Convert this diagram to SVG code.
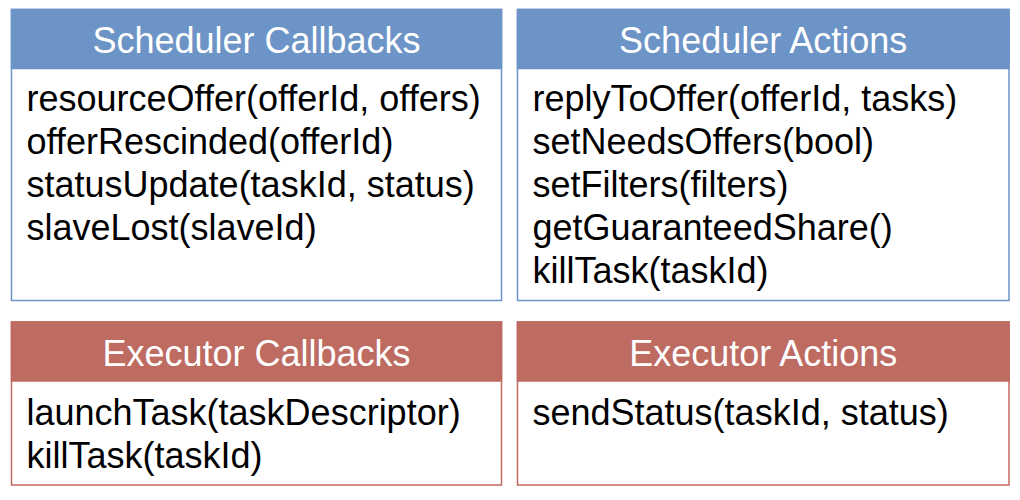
<svg xmlns="http://www.w3.org/2000/svg" width="1020" height="500" viewBox="0 0 1020 500">
<style>
.hdr{font-family:"Liberation Sans",Arial,sans-serif;font-size:36px;fill:#ffffff;text-anchor:middle}
.body{font-family:"Liberation Sans",Arial,sans-serif;font-size:36px;fill:#000000}
.bframe{fill:#ffffff;stroke:#6d93c8;stroke-width:1.5}
.bhead{fill:#6c94c6;stroke:#6d93c8;stroke-width:1.5}
.rframe{fill:#ffffff;stroke:#c0695f;stroke-width:1.5}
.rhead{fill:#be6b62;stroke:#c0695f;stroke-width:1.5}
</style>
<rect width="1020" height="500" fill="#ffffff"/>
<g id="scheduler-callbacks">
<rect class="bframe" x="11.5" y="9.5" width="490" height="291"/>
<rect class="bhead" x="11.5" y="9.5" width="490" height="59"/>
<text class="hdr" x="256.5" y="53">Scheduler Callbacks</text>
<text class="body" x="26.5" y="110.5">resourceOffer(offerId, offers)</text>
<text class="body" x="26.5" y="153.7">offerRescinded(offerId)</text>
<text class="body" x="26.5" y="196.9">statusUpdate(taskId, status)</text>
<text class="body" x="26.5" y="240.1">slaveLost(slaveId)</text>
</g>
<g id="scheduler-actions">
<rect class="bframe" x="517.5" y="9.5" width="491.5" height="291"/>
<rect class="bhead" x="517.5" y="9.5" width="491.5" height="59"/>
<text class="hdr" x="763.2" y="53">Scheduler Actions</text>
<text class="body" x="532.5" y="110.5">replyToOffer(offerId, tasks)</text>
<text class="body" x="532.5" y="153.7">setNeedsOffers(bool)</text>
<text class="body" x="532.5" y="196.9">setFilters(filters)</text>
<text class="body" x="532.5" y="240.1">getGuaranteedShare()</text>
<text class="body" x="532.5" y="283.3">killTask(taskId)</text>
</g>
<g id="executor-callbacks">
<rect class="rframe" x="11.5" y="322" width="490" height="163"/>
<rect class="rhead" x="11.5" y="322" width="490" height="59"/>
<text class="hdr" x="256.5" y="365.5">Executor Callbacks</text>
<text class="body" x="26.5" y="424.7">launchTask(taskDescriptor)</text>
<text class="body" x="26.5" y="467.9">killTask(taskId)</text>
</g>
<g id="executor-actions">
<rect class="rframe" x="517.5" y="322" width="491.5" height="163"/>
<rect class="rhead" x="517.5" y="322" width="491.5" height="59"/>
<text class="hdr" x="763.2" y="365.5">Executor Actions</text>
<text class="body" x="532.5" y="424.7">sendStatus(taskId, status)</text>
</g>
<g id="connectors"/>
</svg>
